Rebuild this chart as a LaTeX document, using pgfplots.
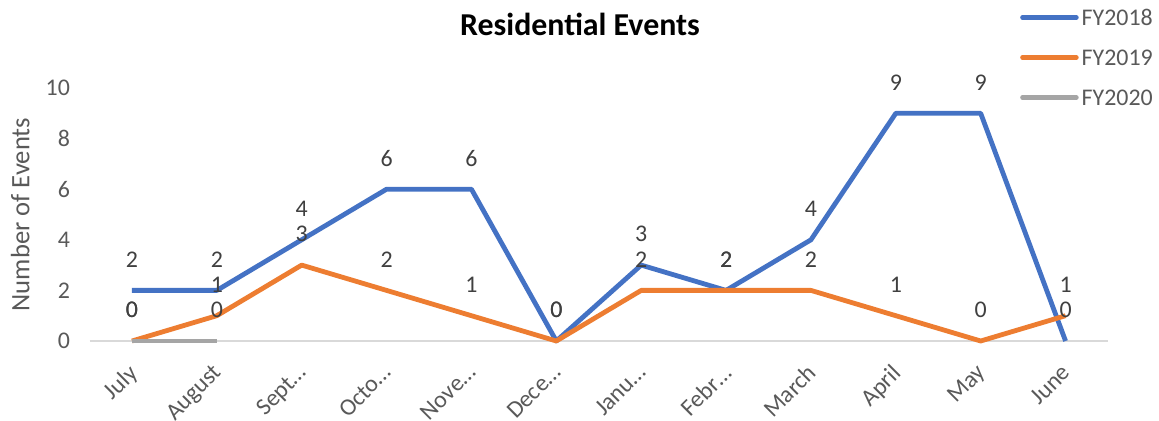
\documentclass[border=0pt]{standalone}
\usepackage{pgfplots}
\pgfplotsset{compat=1.18}
\usepackage{fontspec}
\setmainfont{Carlito}
\definecolor{c18}{HTML}{4472C4}
\definecolor{c19}{HTML}{ED7D31}
\definecolor{c20}{HTML}{A5A5A5}
\definecolor{tick}{HTML}{595959}
\definecolor{lab}{HTML}{404040}
\begin{document}
\begin{tikzpicture}
\useasboundingbox (0,0) rectangle (1159bp,421bp);
\begin{axis}[
  at={(89.5bp,80bp)}, anchor=south west,
  scale only axis, width=1018.5bp, height=253bp,
  xmin=-0.5, xmax=11.5, ymin=0, ymax=10,
  xtick={0,...,11},
  xticklabels={July,August,Sept…,Octo…,Nove…,Dece…,Janu…,Febr…,March,April,May,June},
  ytick={0,2,...,10},
  axis lines*=left,
  x axis line style={draw=black!15, line width=1.2bp},
  y axis line style={draw=none},
  major tick length=0pt,
  /pgf/number format/assume math mode=true,
  tick label style={font=\fontsize{24}{28}\selectfont, text=tick},
  yticklabel style={xshift=-16bp},
  xticklabel style={xshift=-5bp, yshift=-17bp, rotate=45, anchor=north east},
  ylabel={Number of Events},
  ylabel style={at={(axis description cs:-0.068,0.5)}, anchor=center, font=\fontsize{26.7}{30}\selectfont, text=tick},
  title={Residential Events},
  title style={at={(axis description cs:0.4816,1.229)}, anchor=center, font=\bfseries\fontsize{32}{36}\selectfont, text=black},
  nodes near coords,
  every node near coord/.append style={anchor=center, yshift=31bp, font=\fontsize{24}{28}\selectfont, text=lab},
  legend style={at={(axis description cs:0.9136,1.1206)}, anchor=west, draw=none, fill=none, inner sep=0pt,
    font=\fontsize{24}{28}\selectfont, text=tick, row sep=0bp, cells={anchor=west},
    nodes={text height=20bp, text depth=4bp, inner ysep=8bp, inner xsep=3bp}},
  legend image code/.code={\draw[#1, line width=4.5bp, line cap=round] (0bp,0bp) -- (54bp,0bp);},
  clip=false,
]
\addplot[c18, line width=4.8bp, line join=round] coordinates {
(0,2) (1,2) (2,4) (3,6) (4,6) (5,0) (6,3) (7,2) (8,4) (9,9) (10,9) (11,0)};
\addlegendentry{FY2018}
\addplot[c19, line width=4.8bp, line join=round] coordinates {
(0,0) (1,1) (2,3) (3,2) (4,1) (5,0) (6,2) (7,2) (8,2) (9,1) (10,0) (11,1)};
\addlegendentry{FY2019}
\addplot[c20, line width=4.8bp, line join=round] coordinates {
(0,0) (1,0)};
\addlegendentry{FY2020}
\end{axis}
\end{tikzpicture}
\end{document}
